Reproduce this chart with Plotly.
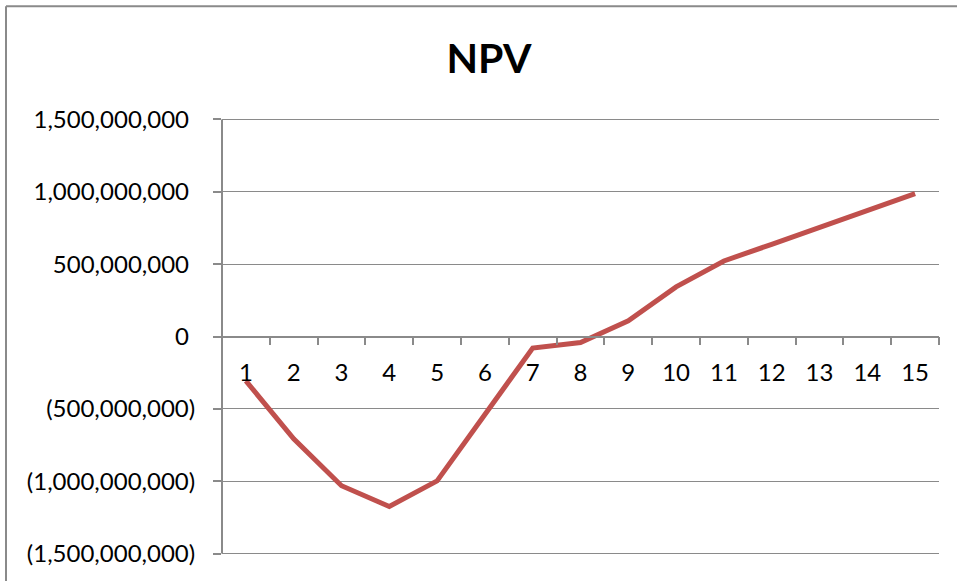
import plotly.graph_objects as go

periods = [str(i) for i in range(1, 16)]
npv = [-307e6, -707e6, -1031e6, -1175e6, -998e6, -538e6, -80e6, -42e6,
       108e6, 343e6, 522e6, 637e6, 753e6, 870e6, 988e6]

y_tickvals = [-1.5e9, -1.0e9, -0.5e9, 0, 0.5e9, 1.0e9, 1.5e9]
y_ticktext = ["(1,500,000,000)", "(1,000,000,000)", "(500,000,000)", "0 ",
              "500,000,000 ", "1,000,000,000 ", "1,500,000,000 "]

GRAY = "#8a8a8a"
FONT = "Lato"

fig = go.Figure()
fig.add_trace(go.Scatter(
    x=periods, y=npv, mode="lines",
    line=dict(color="#C0504D", width=5),
    showlegend=False, hoverinfo="skip"))

W, H = 957, 581
YR = 1.51e9
ppu = (554 - 119.3) / 3e9
T = 119.3 - (YR - 1.5e9) * ppu
Bpix = 554 + (YR - 1.5e9) * ppu
L, R = 222, 18
B = H - Bpix
pw, ph = W - L - R, H - T - B

fig.update_layout(
    width=W, height=H,
    margin=dict(l=L, r=R, t=T, b=B, pad=0, autoexpand=False),
    paper_bgcolor="white", plot_bgcolor="white",
    font=dict(family=FONT, size=24, color="black"),
    title=dict(text="<b>NPV</b>", font=dict(family=FONT, size=41, color="black"),
               x=489 / W, xref="container", xanchor="center",
               y=1 - 59 / H, yref="container", yanchor="middle"),
    xaxis=dict(type="category", range=[-0.5, 14.5], anchor="free", position=0.5,
               showline=True, linecolor=GRAY, linewidth=1.5,
               ticks="outside", tickson="boundaries", ticklen=8,
               tickcolor=GRAY, tickwidth=1.5, showgrid=False,
               ticklabelstandoff=15, tickfont=dict(family=FONT, size=24, color="black")),
    yaxis=dict(range=[-YR, YR], tickvals=y_tickvals, ticktext=y_ticktext,
               showline=False,
               ticks="outside", ticklen=8, tickcolor=GRAY, tickwidth=1.5,
               showgrid=True, gridcolor=GRAY, gridwidth=1.3, zeroline=False,
               ticklabelstandoff=13, tickfont=dict(family=FONT, size=24, color="black")),
)

# y axis line spanning the gridline extent (paper coords, unclipped)
ytop = (1.5e9 + YR) / (2 * YR)
ybot = (-1.5e9 + YR) / (2 * YR)
fig.add_shape(type="line", xref="paper", yref="paper", x0=0, x1=0, y0=ybot, y1=ytop,
              line=dict(color=GRAY, width=2))

# outer chart border (left and top edges visible)
bx = (6 - L) / pw
by = (H - B - 6) / ph
fig.add_shape(type="line", xref="paper", yref="paper", x0=bx, x1=bx, y0=by, y1=-0.2,
              line=dict(color=GRAY, width=2))
fig.add_shape(type="line", xref="paper", yref="paper", x0=bx, x1=1.2, y0=by, y1=by,
              line=dict(color=GRAY, width=2))

fig.write_html("out.html", config={"displayModeBar": False},
               post_script="document.body.style.margin='0';")
